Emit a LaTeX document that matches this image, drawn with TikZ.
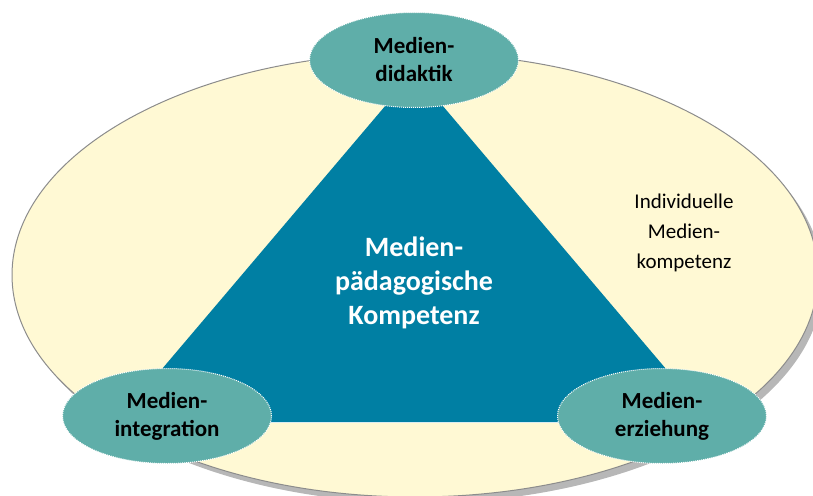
\documentclass[tikz,border=0pt]{standalone}
\usepackage{fontspec}
\setmainfont{Carlito}
\usetikzlibrary{shadows,shapes.geometric}
\definecolor{paleyellow}{RGB}{255,249,212}
\definecolor{tealdark}{RGB}{0,127,163}
\definecolor{tealsoft}{RGB}{95,174,169}
\tikzset{
  bigoval/.style={ellipse, draw=gray!90, line width=1pt, fill=paleyellow,
    minimum width=806pt, minimum height=444pt, inner sep=0pt,
    drop shadow={shadow xshift=5pt, shadow yshift=-6pt, opacity=0.4, fill=black!70}},
  smalloval/.style={ellipse, draw=white, dash pattern=on 1pt off 1pt, line width=1pt, fill=tealsoft,
    minimum width=209pt, minimum height=95pt, inner sep=0pt,
    font=\fontsize{23}{28}\selectfont\bfseries, align=center, text=black},
  maintext/.style={font=\fontsize{28}{34}\selectfont\bfseries, align=center, text=white},
  sidetext/.style={font=\fontsize{21}{30}\selectfont, align=center, text=black}
}
\begin{document}
\begin{tikzpicture}[x=1pt,y=-1pt]
\useasboundingbox (0,0) rectangle (813,495);
\node[bigoval] (outer) at (415,275) {};
\coordinate (apex) at (414,72);
\coordinate (bl) at (117,422);
\coordinate (br) at (711,422);
\fill[tealdark] (apex) -- (bl) -- (br) -- cycle;
\draw[white!85!tealdark, line width=0.6pt] (bl) -- (br);
\node[maintext] (center) at (414,283) {Medien-\\pädagogische\\Kompetenz};
\node[sidetext] (indiv) at (684,233) {Individuelle\\Medien-\\kompetenz};
\node[smalloval] (didaktik) at (414,60) {Medien-\\didaktik};
\node[smalloval] (integration) at (167,416) {Medien-\\integration};
\node[smalloval] (erziehung) at (662,416) {Medien-\\erziehung};
\end{tikzpicture}
\end{document}
